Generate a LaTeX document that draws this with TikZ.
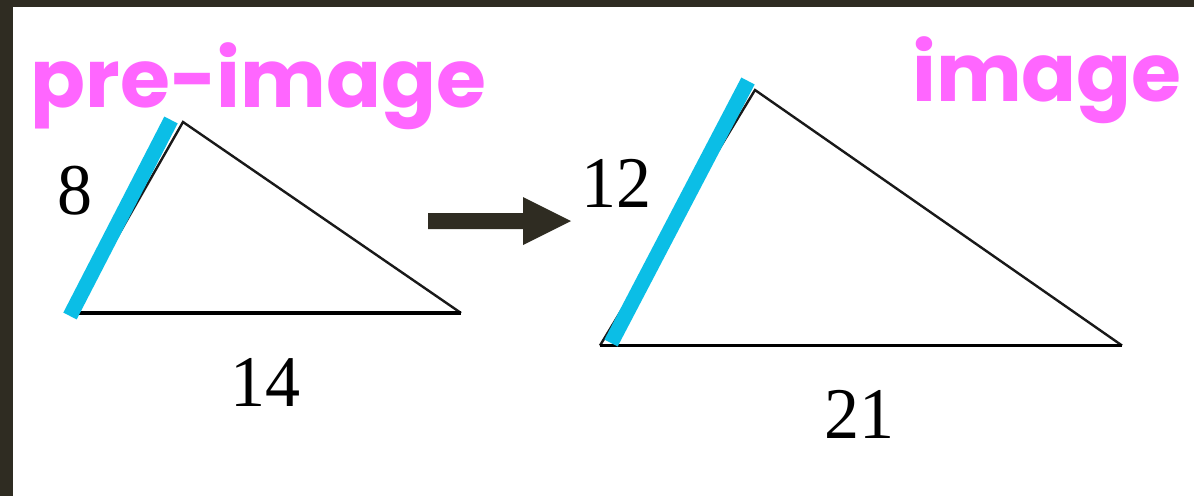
\documentclass[tikz,border=0pt]{standalone}
\usepackage{fontspec}
\newfontfamily\popfont{Poppins}
\newfontfamily\numfont{Liberation Serif}
\definecolor{pinktxt}{RGB}{255,102,255}
\definecolor{sideblue}{RGB}{11,190,230}
\definecolor{darkframe}{RGB}{47,44,34}
\begin{document}
\begin{tikzpicture}[x=1pt,y=-1pt,
  title/.style={text=pinktxt,font=\popfont\bfseries\fontsize{81}{81}\selectfont,anchor=base,inner sep=0pt},
  num/.style={font=\numfont\fontsize{70}{70}\selectfont,anchor=base,inner sep=0pt,yscale=1.04},
  base/.style={line width=3.5pt,black},
  edge/.style={line width=2.4pt,black!90},
  mark side/.style={line width=15pt,sideblue}]
\useasboundingbox (0,0) rectangle (1194,496);
\fill[white] (0,0) rectangle (1194,496);
\fill[darkframe] (0,0) rectangle (1194,7);
\fill[darkframe] (0,0) rectangle (12.5,496);
% titles
\node[title] (pre) at (258.5,107) {pre-image};
\node[title] (img) at (1047,101) {image};
% left triangle
\coordinate (A1) at (74,313);
\coordinate (B1) at (183,122);
\coordinate (C1) at (461,313);
\draw[edge] (A1) -- (B1) -- (C1);
\draw[base] (A1) -- (C1);
\coordinate (L1) at (70,316);
\coordinate (L2) at (171,120);
\draw[mark side] (L1) -- (L2);
\node[num] (n8) at (74.5,214) {8};
\node[num] (n14) at (265.5,406) {14};
% arrow
\coordinate (S1) at (428,213);
\coordinate (S2) at (523,213);
\coordinate (H1) at (523,197);
\coordinate (T) at (571,221);
\coordinate (H2) at (523,245);
\coordinate (S3) at (523,229);
\coordinate (S4) at (428,229);
\fill[darkframe] (S1) -- (S2) -- (H1) -- (T) -- (H2) -- (S3) -- (S4) -- cycle;
% right triangle
\coordinate (A2) at (600,345.5);
\coordinate (B2) at (755,90);
\coordinate (C2) at (1122,345.5);
\draw[edge] (A2) -- (B2) -- (C2);
\draw[base] (A2) -- (C2);
\coordinate (R1) at (611,343);
\coordinate (R2) at (748,81);
\draw[mark side] (R1) -- (R2);
\node[num] (n12) at (616.5,207) {12};
\node[num] (n21) at (859,438) {21};
\end{tikzpicture}
\end{document}
